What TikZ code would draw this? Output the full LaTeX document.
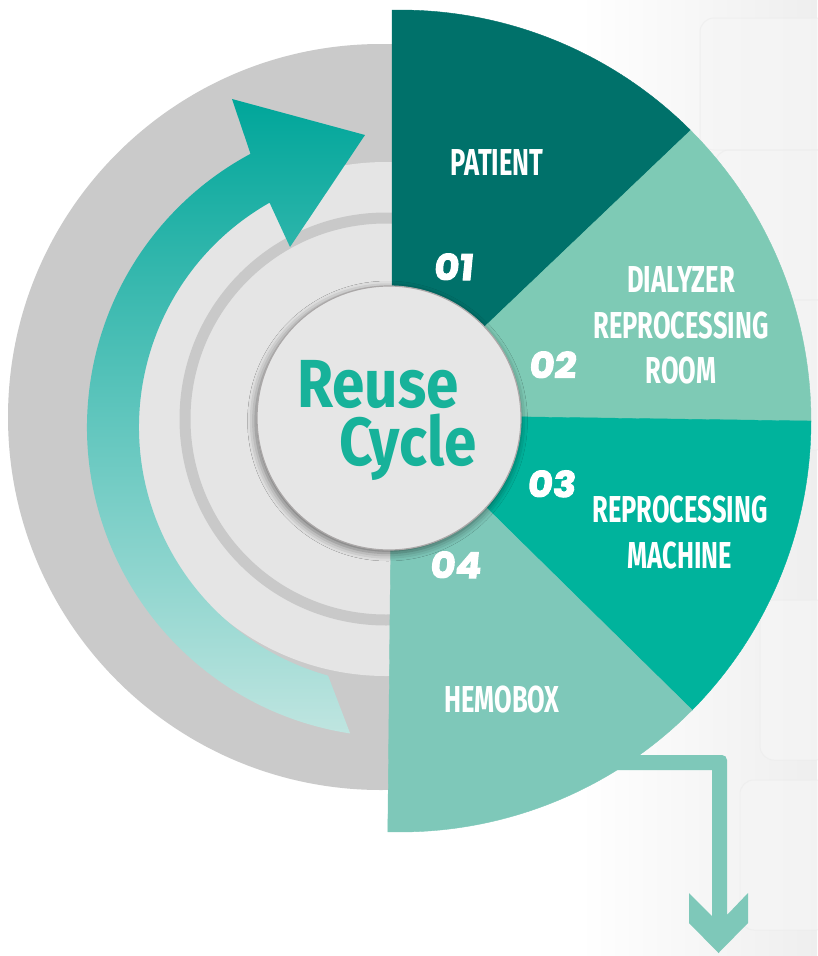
\documentclass[tikz,border=0pt]{standalone}
\usepackage{fontspec}
\newfontfamily\labelfont{Fira Sans}[FakeStretch=0.68]
\newfontfamily\reusefont{Fira Sans}[FakeStretch=0.86]
\newfontfamily\numfont{Poppins}[UprightFont=* Bold, FakeSlant=0.1, FakeBold=3, FakeStretch=1.08]
\usetikzlibrary{shadows.blur,calc}
\definecolor{sOne}{HTML}{00716A}
\definecolor{sTwo}{HTML}{7ECAB5}
\definecolor{sThree}{HTML}{00B39C}
\definecolor{sFour}{HTML}{7EC8B9}
\definecolor{gOuter}{HTML}{CACACA}
\definecolor{gLight}{HTML}{E5E5E5}
\definecolor{gRing}{HTML}{C9C9C9}
\definecolor{hubFill}{HTML}{E6E6E6}
\definecolor{hubEdge}{HTML}{ABA8A8}
\definecolor{reuseText}{HTML}{17B29A}
\definecolor{arTop}{HTML}{00A69A}
\definecolor{arMid}{HTML}{4FB4AA}
\definecolor{arBot}{HTML}{BFE5E0}
\definecolor{bgRight}{HTML}{EEEEEE}
\definecolor{boxFill}{HTML}{F6F6F6}
\definecolor{boxEdge}{HTML}{EBEBEB}
\begin{document}
\begin{tikzpicture}[x=1pt,y=-1pt,
  lbl/.style={text=white, font=\labelfont\bfseries\fontsize{37.5}{40}\selectfont, inner sep=0pt, anchor=base},
  num/.style={text=white, font=\numfont\fontsize{35.5}{38}\selectfont, inner sep=0pt, anchor=base},
  reuse/.style={text=reuseText, font=\reusefont\bfseries\fontsize{68}{58}\selectfont, inner sep=0pt, align=left, anchor=north west},
  photobox/.style={fill=boxFill, draw=boxEdge, line width=1, rounded corners=14, opacity=0.6}]
\useasboundingbox (0,0) rectangle (817,956);
\fill[white] (0,0) rectangle (817,956);
% faint photo background on the right
\shade[left color=white, right color=bgRight] (580,0) rectangle (817,956);
\path[photobox] (700,18) rectangle (830,150);
\path[photobox] (715,150) rectangle (830,300);
\path[photobox] (735,300) rectangle (830,450);
\path[photobox] (760,600) rectangle (830,760);
\path[photobox] (740,780) rectangle (830,930);
% concentric grey discs
\fill[gOuter] (381,417) circle[radius=373];
\fill[gLight] (386,419) circle[radius=257];
\fill[gRing, even odd rule] (386,419) circle[radius=206.5] (386,419) circle[radius=195.5];
% curved cycle arrow
\shade[top color=arTop, middle color=arMid, bottom color=arBot]
  ([shift={(397,427)}]98.7:310) arc[start angle=98.7, end angle=241.8, radius=310]
  -- (232,99) -- (365,135) -- (290,247)
  -- ([shift={(397,427)}]240.4:258) arc[start angle=240.4, end angle=105.5, radius=258] -- cycle;
% exit arrow
\fill[sFour] (600,755) -- (722,755) arc[start angle=-90, end angle=0, radius=5] -- (727,915)
  -- (748,893) -- (748,923) -- (718.5,953) -- (689,923) -- (689,893) -- (712,916)
  -- (712,770) -- (600,770) -- cycle;
% sectors
\filldraw[fill=sOne, draw=sOne, line width=0.4] (392,415) -- ([shift={(400,421)}]268.9:411) arc[start angle=268.9, end angle=315, radius=411] -- cycle;
\filldraw[fill=sTwo, draw=sTwo, line width=0.4] (392,415) -- ([shift={(400,421)}]315:411) arc[start angle=315, end angle=360, radius=411] -- cycle;
\filldraw[fill=sThree, draw=sThree, line width=0.4] (392,415) -- ([shift={(400,421)}]0:411) arc[start angle=0, end angle=44.7, radius=411] -- cycle;
\filldraw[fill=sFour, draw=sFour, line width=0.4] (392,415) -- ([shift={(400,421)}]44.7:411) arc[start angle=44.7, end angle=91.7, radius=411] -- cycle;
% hub
\node[circle, minimum size=264pt, inner sep=0pt, fill=hubFill, draw=hubEdge, line width=1.2pt,
  blur shadow={shadow xshift=-1.5pt, shadow yshift=-3pt, shadow blur radius=8pt, shadow opacity=55}] (hub) at (389,418) {};
\node[reuse] (title) at (297,360) {Reuse\\\hspace*{42pt}Cycle};
% labels
\node[lbl] (patient) at (497,175) {PATIENT};
\node[lbl] (dialA) at (681,292) {DIALYZER};
\node[lbl] (dialB) at (681,338) {REPROCESSING};
\node[lbl] (dialC) at (681,383) {ROOM};
\node[lbl] (machA) at (680,522) {REPROCESSING};
\node[lbl] (machB) at (680,568) {MACHINE};
\node[lbl] (hemo) at (502,712) {HEMOBOX};
% numbers
\node[num] (n1) at (453,280) {01};
\node[num] (n2) at (552,378) {02};
\node[num] (n3) at (551,497) {03};
\node[num] (n4) at (455,578) {04};
\end{tikzpicture}
\end{document}
